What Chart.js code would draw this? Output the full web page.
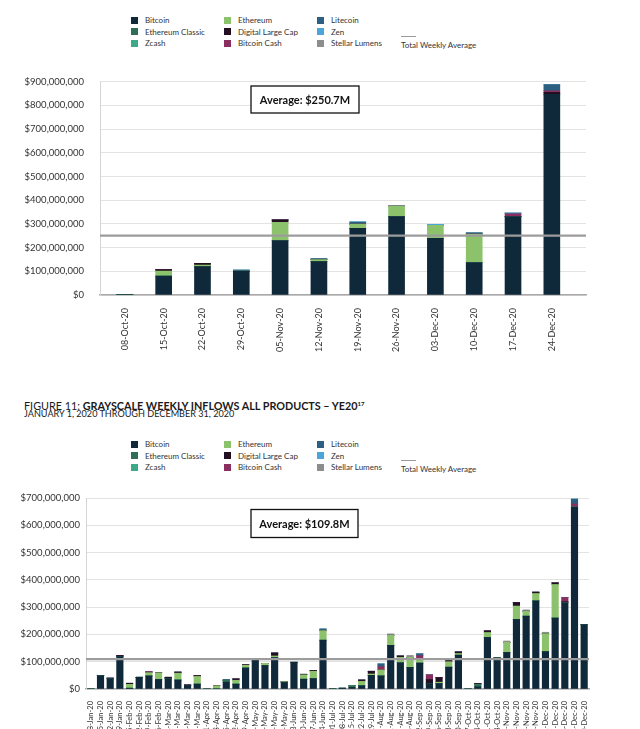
<!DOCTYPE html>
<html>
<head>
<meta charset="utf-8">
<script src="https://cdn.jsdelivr.net/npm/chart.js@4.4.1/dist/chart.umd.min.js"></script>
<style>
  html, body { margin:0; padding:0; width:640px; height:729px; overflow:hidden; background:#fff; font-family: Lato, "Open Sans", sans-serif; }
  canvas { position:absolute; left:0; }
  .li { position:absolute; white-space:nowrap; font-size:8px; line-height:10px; color:#333; }
  .sw { position:absolute; width:7px; height:7px; }
  .avgl { position:absolute; height:1.5px; width:15px; background:#9a9a9a; }
  .title { position:absolute; left:24px; top:397px; font-size:10.8px; line-height:13px; color:#1a1a1a; white-space:nowrap; }
  .title b { font-weight:700; }
  .title sup { font-size:6px; vertical-align:4px; font-weight:700; }
  .sub { position:absolute; left:24px; top:409px; font-size:9.1px; line-height:10px; color:#1a1a1a; white-space:nowrap; }
</style>
</head>
<body>
<div class="title">FIGURE 11: <b>GRAYSCALE WEEKLY INFLOWS ALL PRODUCTS – YE20</b><sup>17</sup></div>
<div class="sub">JANUARY 1, 2020 THROUGH DECEMBER 31, 2020</div>
<canvas id="c1" width="640" height="300" style="top:60px;width:640px;height:300px"></canvas>
<canvas id="c2" width="640" height="300" style="top:480px;width:640px;height:300px"></canvas>
<script>
// ---------- series (legend / stack order) ----------
const seriesNames = ['Bitcoin','Ethereum Classic','Zcash','Ethereum','Digital Large Cap','Bitcoin Cash','Litecoin','Zen','Stellar Lumens'];
const seriesColors = ['#10293a','#2f6e56','#3aaa88','#8cc26b','#230f22','#8a2d5f','#2b6080','#4aa6d9','#8d8d8d'];

// ---------- Chart 1: Q4 2020 weekly inflows ($ millions) ----------
const weeksQ4 = ['08-Oct-20','15-Oct-20','22-Oct-20','29-Oct-20','05-Nov-20','12-Nov-20','19-Nov-20','26-Nov-20','03-Dec-20','10-Dec-20','17-Dec-20','24-Dec-20'];
const bitcoinQ4    = [2, 80, 120, 101, 230, 141, 281, 331, 239, 137, 331, 847];
const ethClassicQ4 = [1, 0, 0, 0, 0, 0, 0, 0, 0, 0, 0, 0];
const zcashQ4      = [0, 0, 0, 0, 0, 0, 0, 0, 0, 0, 0, 0];
const ethereumQ4   = [0, 21, 6, 0, 77, 8, 18, 44, 55, 120, 0, 0];
const dlcQ4        = [0, 6, 8, 0, 10, 0, 0, 0, 0, 0, 0, 8];
const bchQ4        = [0, 0, 0, 0, 0, 0, 0, 0, 0, 0, 12, 7];
const litecoinQ4   = [0, 0, 0, 0, 0, 5, 8, 0, 0, 5, 0, 26];
const zenQ4        = [0, 0, 0, 5, 0, 0, 3, 0, 4, 0, 4, 0];
const stellarQ4    = [0, 0, 0, 0, 0, 0, 0, 0, 0, 0, 0, 0];
const averageQ4 = 250.7;
const yTicksQ4 = { min: 0, max: 900, step: 100 };

// ---------- Chart 2: full-year 2020 weekly inflows ($ millions) ----------
const weeks2020 = ['08-Jan-20','15-Jan-20','22-Jan-20','29-Jan-20','05-Feb-20','12-Feb-20','19-Feb-20','26-Feb-20',
  '04-Mar-20','11-Mar-20','18-Mar-20','25-Mar-20','01-Apr-20','08-Apr-20','15-Apr-20','22-Apr-20','29-Apr-20',
  '06-May-20','13-May-20','20-May-20','27-May-20','03-Jun-20','10-Jun-20','17-Jun-20','24-Jun-20',
  '01-Jul-20','08-Jul-20','15-Jul-20','22-Jul-20','29-Jul-20','05-Aug-20','12-Aug-20','19-Aug-20','26-Aug-20',
  '02-Sep-20','09-Sep-20','16-Sep-20','23-Sep-20','30-Sep-20','07-Oct-20','14-Oct-20','21-Oct-20','28-Oct-20',
  '04-Nov-20','11-Nov-20','18-Nov-20','25-Nov-20','02-Dec-20','09-Dec-20','16-Dec-20','23-Dec-20','30-Dec-20'];
const bitcoin2020    = [0,49,38,119,3,43,48,35,38,33, 13,18,0,0,25,18,77,107,86,115, 24,98,36,38,179,0,1,6,12,50, 48,160,96,79,95,20,20,80,124,0, 8,189,114,134,255,267,323,137,260,316, 667,236];
const ethClassic2020 = [0,0,0,0,0,0,0,0,0,0, 0,0,0,2,7,0,0,0,0,0, 0,0,0,0,0,1,2,6,0,0, 0,0,0,0,0,0,0,0,0,0, 8,0,0,0,0,0,0,0,0,0, 0,0];
const zcash2020      = [0,0,0,0,0,0,0,0,0,0, 0,0,0,0,0,0,0,0,0,0, 0,0,0,0,0,0,0,0,0,0, 0,0,0,0,0,0,0,0,0,0, 0,0,0,0,0,0,0,0,0,0, 0,0];
const ethereum2020   = [0,0,0,0,14,0,12,24,0,25, 0,28,0,10,0,14,10,0,8,6, 3,0,16,27,35,0,0,0,16,5, 22,37,20,37,15,0,5,20,6,0, 0,18,0,37,49,18,27,66,123,0, 0,0];
const dlc2020        = [0,0,2,4,4,0,0,0,5,4, 2,3,0,0,0,5,2,0,0,11, 0,0,2,3,0,0,0,0,5,10, 0,0,5,0,0,15,17,10,6,0, 4,6,0,0,13,0,5,0,6,4, 0,0];
const bch2020        = [0,0,0,0,0,0,4,0,0,0, 0,0,0,0,0,0,0,0,0,0, 0,0,0,0,0,0,0,0,0,0, 12,0,0,0,12,17,0,0,0,0, 0,0,0,0,0,0,0,0,0,15, 11,0];
const litecoin2020   = [0,0,0,0,0,0,0,0,0,0, 0,0,0,0,3,0,0,0,0,0, 0,0,0,0,6,0,0,0,0,0, 10,0,0,0,7,0,0,0,0,0, 0,0,0,0,0,0,0,0,0,0, 18,0];
const zen2020        = [0,0,0,0,0,0,0,0,0,0, 0,0,0,0,0,0,0,0,0,0, 0,0,0,0,0,1,0,0,0,0, 0,0,0,0,0,0,0,0,0,2, 0,0,0,0,0,0,0,0,0,0, 0,0];
const stellar2020    = [0,0,0,0,0,0,0,0,0,0, 0,0,0,0,0,0,0,0,0,0, 0,0,0,0,0,0,0,0,0,0, 0,5,0,7,0,0,0,0,0,0, 0,0,0,5,0,5,0,5,0,0, 0,0];
const average2020 = 109.8;
const yTicks2020 = { min: 0, max: 700, step: 100 };

// ---------- legends (HTML) ----------
function buildLegend(rowYs) {
  const colSw = [131, 224, 317], colTx = [145, 238, 331];
  seriesNames.forEach((n, i) => {
    const c = Math.floor(i / 3), r = i % 3;
    const sw = document.createElement('div');
    sw.className = 'sw'; sw.style.background = seriesColors[i];
    sw.style.left = colSw[c] + 'px'; sw.style.top = (rowYs[r] - 3.5) + 'px';
    document.body.appendChild(sw);
    const t = document.createElement('div');
    t.className = 'li'; t.textContent = n;
    t.style.left = colTx[c] + 'px'; t.style.top = (rowYs[r] - 5) + 'px';
    document.body.appendChild(t);
  });
  const l = document.createElement('div');
  l.className = 'avgl'; l.style.left = '401px'; l.style.top = (rowYs[1] + 4) + 'px';
  document.body.appendChild(l);
  const t = document.createElement('div');
  t.className = 'li'; t.textContent = 'Total Weekly Average';
  t.style.left = '401px'; t.style.top = (rowYs[2] - 3.5) + 'px';
  document.body.appendChild(t);
}
buildLegend([20, 31.5, 43]);
buildLegend([444, 455.5, 467]);

// ---------- chart helpers ----------
Chart.defaults.font.family = 'Lato, "Open Sans", sans-serif';
Chart.defaults.color = '#333';

const avgPlugin = {
  id: 'avgLine',
  afterDatasetsDraw(chart, args, opts) {
    const { ctx, chartArea, scales: { y } } = chart;
    const py = y.getPixelForValue(opts.value);
    ctx.save();
    ctx.strokeStyle = '#9c9c9c';
    ctx.lineWidth = 2.2;
    ctx.beginPath(); ctx.moveTo(chartArea.left, py); ctx.lineTo(chartArea.right, py); ctx.stroke();
    const b = opts.box;
    ctx.fillStyle = '#fff'; ctx.fillRect(b.x, b.y, b.w, b.h);
    ctx.strokeStyle = '#111'; ctx.lineWidth = 1.3; ctx.strokeRect(b.x, b.y, b.w, b.h);
    ctx.fillStyle = '#111';
    ctx.font = 'bold 11px Lato, "Open Sans", sans-serif';
    ctx.textAlign = 'center'; ctx.textBaseline = 'middle';
    ctx.fillText(opts.text, b.x + b.w / 2, b.y + b.h / 2 + 0.5);
    ctx.restore();
  }
};

const money = v => '$' + Math.round(v * 1e6).toLocaleString('en-US');

function datasets(seriesList, thickness) {
  return seriesList.map((data, i) => ({
    label: seriesNames[i], data, backgroundColor: seriesColors[i],
    borderWidth: 0, barThickness: thickness, stack: 'all'
  }));
}

// ---------- Chart 1 ----------
new Chart(document.getElementById('c1'), {
  type: 'bar',
  data: {
    labels: weeksQ4.map((w, i) => i),
    datasets: datasets([bitcoinQ4, ethClassicQ4, zcashQ4, ethereumQ4, dlcQ4, bchQ4, litecoinQ4, zenQ4, stellarQ4], 16)
  },
  options: {
    responsive: false, animation: false,
    layout: { padding: { top: 16, right: 54, left: 0, bottom: 0 } },
    plugins: {
      legend: { display: false }, tooltip: { enabled: false },
      avgLine: { value: averageQ4, text: 'Average: $250.7M', box: { x: 251, y: 26, w: 108, h: 27 } }
    },
    scales: {
      x: {
        type: 'linear', stacked: true, min: -0.64, max: 11.88, offset: false,
        grid: { display: false },
        border: { display: true, color: '#a9a9a9', width: 1.5 },
        afterFit: s => { s.height = 65; },
        ticks: {
          stepSize: 1, autoSkip: false, includeBounds: false,
          minRotation: 90, maxRotation: 90, padding: 5,
          font: { size: 9 }, color: '#333',
          callback: v => weeksQ4[v] ?? ''
        }
      },
      y: {
        stacked: true, min: yTicksQ4.min, max: yTicksQ4.max,
        grid: { color: '#e3e3e3', drawTicks: false },
        border: { display: true, color: '#d5d5d5' },
        afterFit: s => { s.width = 100; },
        ticks: { stepSize: yTicksQ4.step, padding: 16, font: { size: 9.5 }, color: '#333', callback: money }
      }
    }
  },
  plugins: [avgPlugin]
});

// ---------- Chart 2 ----------
new Chart(document.getElementById('c2'), {
  type: 'bar',
  data: {
    labels: weeks2020,
    datasets: datasets([bitcoin2020, ethClassic2020, zcash2020, ethereum2020, dlc2020, bch2020, litecoin2020, zen2020, stellar2020], 6.5)
  },
  options: {
    responsive: false, animation: false,
    layout: { padding: { top: 18, right: 51, left: 0, bottom: 0 } },
    plugins: {
      legend: { display: false }, tooltip: { enabled: false },
      avgLine: { value: average2020, text: 'Average: $109.8M', box: { x: 251, y: 29.5, w: 107, h: 28 } }
    },
    scales: {
      x: {
        stacked: true,
        grid: { display: false },
        border: { display: true, color: '#a9a9a9', width: 1.5 },
        afterFit: s => { s.height = 91; },
        ticks: { autoSkip: false, minRotation: 90, maxRotation: 90, padding: 4, font: { size: 7.5 }, color: '#333' }
      },
      y: {
        stacked: true, min: yTicks2020.min, max: yTicks2020.max,
        grid: { color: '#e3e3e3', drawTicks: false },
        border: { display: true, color: '#d5d5d5' },
        afterFit: s => { s.width = 86; },
        ticks: { stepSize: yTicks2020.step, padding: 6, font: { size: 9.5 }, color: '#333', callback: money }
      }
    }
  },
  plugins: [avgPlugin]
});
</script>
</body>
</html>
